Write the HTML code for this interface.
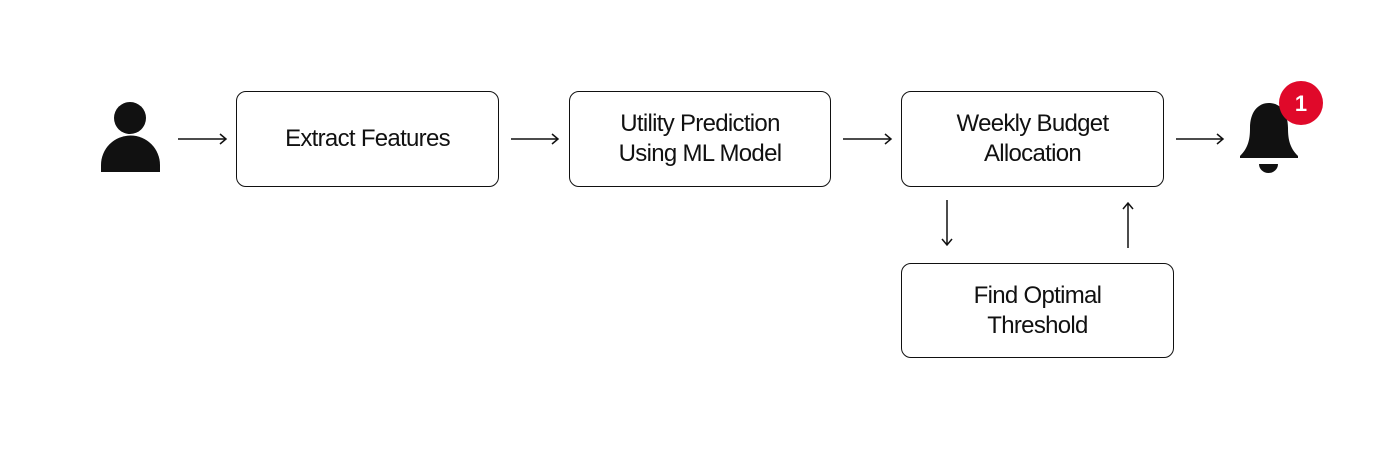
<!DOCTYPE html>
<html><head><style>
body{margin:0;width:1400px;height:449px;background:#fff;overflow:hidden;position:relative;font-family:"Liberation Sans",sans-serif}
.b{position:absolute;border:1.5px solid #111;border-radius:10px;box-sizing:border-box;display:flex;align-items:center;justify-content:center;text-align:center;font-size:24px;line-height:30px;color:#111;letter-spacing:-0.7px}
svg{position:absolute;left:0;top:0}
</style></head><body>
<div class="b" style="left:236px;top:91px;width:263px;height:96px">Extract Features</div>
<div class="b" style="left:569px;top:91px;width:262px;height:96px">Utility Prediction<br>Using ML Model</div>
<div class="b" style="left:901px;top:91px;width:263px;height:96px">Weekly Budget<br>Allocation</div>
<div class="b" style="left:901px;top:263px;width:273px;height:95px">Find Optimal<br>Threshold</div>
<svg width="1400" height="449">
<g stroke="#111" stroke-width="1.5" fill="none">
<path d="M178 139H226M220 134L226 139L220 144"/>
<path d="M511 139H558M552 134L558 139L552 144"/>
<path d="M843 139H891M885 134L891 139L885 144"/>
<path d="M1176 139H1223M1217 134L1223 139L1217 144"/>
<path d="M947 200V245M942 239L947 245L952 239"/>
<path d="M1128 248V203M1123 209L1128 203L1133 209"/>
</g>
<circle cx="130" cy="118" r="16" fill="#111"/>
<path d="M101 172V165A29.5 29.5 0 0 1 160 165V172Z" fill="#111"/>
<path d="M1240 158L1240 156C1248 148 1250 140 1250 128C1250 112 1258 103 1269 103C1280 103 1288 112 1288 128C1288 140 1290 148 1298 156L1298 158Z" fill="#111"/>
<path d="M1259 164H1278A9.5 9 0 0 1 1259 164Z" fill="#111"/>
<circle cx="1301" cy="103" r="22" fill="#e0092a"/>
<text x="1301" y="111" text-anchor="middle" font-family="Liberation Sans" font-weight="bold" font-size="22" fill="#fff">1</text>
</svg>
</body></html>
